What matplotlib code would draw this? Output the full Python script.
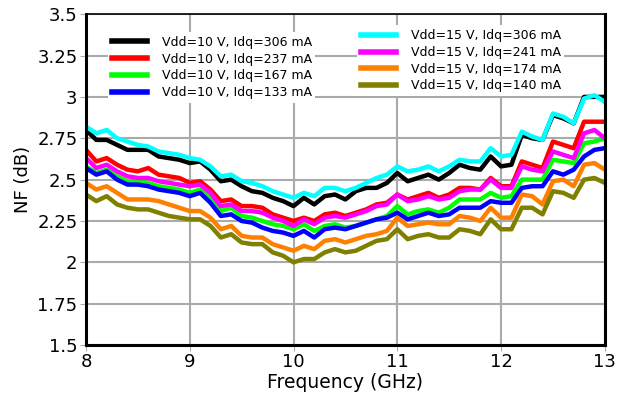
import numpy as np
import matplotlib
matplotlib.use("Agg")
import matplotlib.pyplot as plt

# Frequency sweep in GHz (0.1 GHz steps)
freq = np.round(np.arange(8.0, 13.0001, 0.1), 1)

# Noise figure (dB), Vdd = 10 V
nf_10v_306 = [2.80, 2.74, 2.74, 2.71, 2.68, 2.68, 2.68, 2.64, 2.63, 2.62,
              2.60, 2.61, 2.56, 2.49, 2.50, 2.46, 2.43, 2.42, 2.39, 2.37,
              2.34, 2.39, 2.35, 2.40, 2.41, 2.38, 2.43, 2.45, 2.45, 2.48,
              2.54, 2.49, 2.51, 2.53, 2.50, 2.54, 2.59, 2.57, 2.56, 2.64,
              2.58, 2.59, 2.77, 2.75, 2.74, 2.89, 2.87, 2.84, 3.00, 3.00, 3.00]
nf_10v_237 = [2.68, 2.61, 2.63, 2.59, 2.56, 2.55, 2.57, 2.53, 2.52, 2.51,
              2.48, 2.49, 2.44, 2.37, 2.38, 2.34, 2.34, 2.33, 2.29, 2.27,
              2.25, 2.27, 2.25, 2.29, 2.30, 2.28, 2.30, 2.32, 2.35, 2.36,
              2.41, 2.38, 2.40, 2.42, 2.39, 2.41, 2.45, 2.45, 2.44, 2.51,
              2.46, 2.46, 2.61, 2.59, 2.57, 2.73, 2.71, 2.69, 2.85, 2.85, 2.85]
nf_10v_167 = [2.58, 2.54, 2.56, 2.52, 2.49, 2.49, 2.48, 2.46, 2.45, 2.44,
              2.42, 2.44, 2.39, 2.31, 2.33, 2.28, 2.27, 2.25, 2.23, 2.22,
              2.20, 2.23, 2.19, 2.22, 2.23, 2.21, 2.22, 2.24, 2.26, 2.28,
              2.34, 2.29, 2.31, 2.32, 2.30, 2.33, 2.38, 2.38, 2.38, 2.42,
              2.39, 2.40, 2.50, 2.50, 2.50, 2.62, 2.61, 2.60, 2.72, 2.73, 2.75]
nf_10v_133 = [2.57, 2.53, 2.55, 2.50, 2.47, 2.47, 2.46, 2.44, 2.43, 2.42,
              2.40, 2.42, 2.36, 2.28, 2.29, 2.25, 2.24, 2.21, 2.19, 2.18,
              2.16, 2.19, 2.15, 2.20, 2.21, 2.20, 2.22, 2.24, 2.26, 2.27,
              2.30, 2.26, 2.28, 2.30, 2.28, 2.29, 2.33, 2.33, 2.33, 2.37,
              2.36, 2.36, 2.45, 2.46, 2.46, 2.55, 2.53, 2.56, 2.64, 2.68, 2.69]

# Noise figure (dB), Vdd = 15 V
nf_15v_306 = [2.82, 2.78, 2.80, 2.75, 2.73, 2.71, 2.70, 2.67, 2.66, 2.65,
              2.63, 2.62, 2.58, 2.52, 2.53, 2.49, 2.48, 2.46, 2.43, 2.41,
              2.39, 2.42, 2.40, 2.45, 2.45, 2.43, 2.45, 2.48, 2.51, 2.53,
              2.58, 2.55, 2.56, 2.58, 2.55, 2.58, 2.62, 2.61, 2.61, 2.69,
              2.64, 2.65, 2.79, 2.76, 2.74, 2.90, 2.88, 2.84, 2.99, 3.01, 2.97]
nf_15v_241 = [2.63, 2.57, 2.59, 2.55, 2.52, 2.51, 2.51, 2.49, 2.48, 2.47,
              2.46, 2.47, 2.42, 2.34, 2.35, 2.31, 2.31, 2.30, 2.27, 2.25,
              2.22, 2.26, 2.23, 2.27, 2.28, 2.27, 2.29, 2.31, 2.34, 2.35,
              2.41, 2.37, 2.38, 2.40, 2.38, 2.39, 2.43, 2.44, 2.44, 2.50,
              2.45, 2.45, 2.58, 2.56, 2.55, 2.67, 2.65, 2.63, 2.78, 2.80, 2.75]
nf_15v_174 = [2.48, 2.44, 2.46, 2.42, 2.38, 2.38, 2.38, 2.37, 2.35, 2.33,
              2.31, 2.31, 2.27, 2.20, 2.22, 2.16, 2.15, 2.15, 2.11, 2.09,
              2.07, 2.10, 2.08, 2.13, 2.14, 2.12, 2.14, 2.16, 2.17, 2.19,
              2.27, 2.22, 2.23, 2.24, 2.23, 2.23, 2.28, 2.27, 2.25, 2.33,
              2.27, 2.27, 2.41, 2.40, 2.35, 2.49, 2.50, 2.46, 2.59, 2.60, 2.56]
nf_15v_140 = [2.41, 2.37, 2.40, 2.35, 2.33, 2.32, 2.32, 2.30, 2.28, 2.27,
              2.26, 2.26, 2.22, 2.15, 2.17, 2.12, 2.11, 2.11, 2.06, 2.04,
              2.00, 2.02, 2.02, 2.06, 2.08, 2.06, 2.07, 2.10, 2.13, 2.14,
              2.20, 2.14, 2.16, 2.17, 2.15, 2.15, 2.20, 2.19, 2.17, 2.26,
              2.20, 2.20, 2.33, 2.33, 2.29, 2.43, 2.42, 2.39, 2.50, 2.51, 2.48]

series_10v = [nf_10v_306, nf_10v_237, nf_10v_167, nf_10v_133]
series_15v = [nf_15v_306, nf_15v_241, nf_15v_174, nf_15v_140]
labels_10v = ["Vdd=10 V, Idq=306 mA", "Vdd=10 V, Idq=237 mA",
              "Vdd=10 V, Idq=167 mA", "Vdd=10 V, Idq=133 mA"]
labels_15v = ["Vdd=15 V, Idq=306 mA", "Vdd=15 V, Idq=241 mA",
              "Vdd=15 V, Idq=174 mA", "Vdd=15 V, Idq=140 mA"]
colors_10v = ["#000000", "#ff0000", "#00ff00", "#0000ff"]
colors_15v = ["#00ffff", "#ff00ff", "#ff8000", "#808000"]

xticks = [8, 9, 10, 11, 12, 13]
yticks = [1.5, 1.75, 2, 2.25, 2.5, 2.75, 3, 3.25, 3.5]
ytick_labels = ["1.5", "1.75", "2", "2.25", "2.5", "2.75", "3", "3.25", "3.5"]

fig = plt.figure(figsize=(6.32, 4.05), dpi=100)
ax = fig.add_axes([0.136, 0.148, 0.821, 0.817])

h10 = []
for y, c, lab in zip(series_10v, colors_10v, labels_10v):
    h10 += ax.plot(freq, y, color=c, lw=3.2, label=lab, solid_joinstyle="round")
h15 = []
for y, c, lab in zip(series_15v, colors_15v, labels_15v):
    h15 += ax.plot(freq, y, color=c, lw=3.2, label=lab, solid_joinstyle="round")

ax.set_xlim(8, 13)
ax.set_ylim(1.5, 3.5)
ax.set_xticks(xticks)
ax.set_yticks(yticks)
ax.set_yticklabels(ytick_labels)
ax.tick_params(labelsize=13, length=4, color="#aaaaaa", pad=2)
ax.grid(True, color="#aaaaaa", lw=1.5)
ax.set_axisbelow(True)

for side in ["left", "bottom", "right"]:
    ax.spines[side].set_linewidth(2.2)
ax.spines["top"].set_linewidth(1.2)

ax.set_xlabel("Frequency (GHz)", fontsize=13.5, labelpad=1)
ax.set_ylabel("NF (dB)", fontsize=13, labelpad=4)

# two legend blocks, one per supply voltage
leg_kw = dict(loc="upper left", fontsize=9, handlelength=2.8, handletextpad=1.2,
              labelspacing=0.3, borderpad=0.3, frameon=True, fancybox=False,
              framealpha=1, facecolor="white", edgecolor="none")
leg1 = ax.legend(handles=h10, bbox_to_anchor=(0.03, 0.965), **leg_kw)
for ln in leg1.get_lines():
    ln.set_linewidth(4)
ax.add_artist(leg1)
leg2 = ax.legend(handles=h15, bbox_to_anchor=(0.51, 0.985), **leg_kw)
for ln in leg2.get_lines():
    ln.set_linewidth(4)

fig.savefig("out.png", dpi=100)
